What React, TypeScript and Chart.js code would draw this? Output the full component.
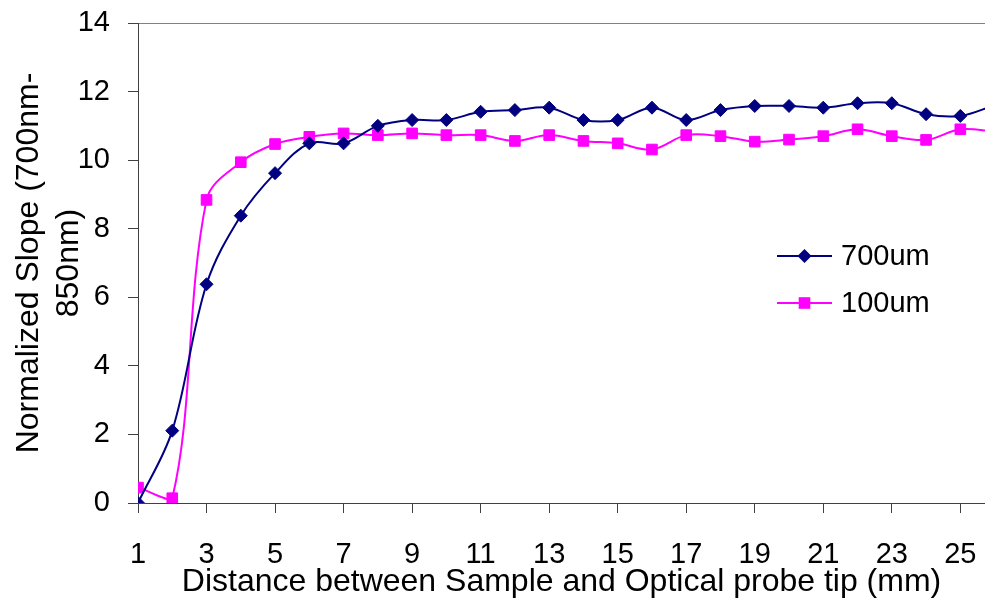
import { useEffect, useRef } from 'react';
import { Chart, registerables } from 'chart.js';

Chart.register(...registerables);

const distances = [1, 2, 3, 4, 5, 6, 7, 8, 9, 10, 11, 12, 13, 14, 15, 16, 17, 18, 19, 20, 21, 22, 23, 24, 25, 26];
const series700um = [0, 2.11, 6.38, 8.38, 9.62, 10.49, 10.49, 11.0, 11.17, 11.17, 11.41, 11.46, 11.53, 11.17, 11.17, 11.53, 11.17, 11.46, 11.58, 11.58, 11.53, 11.66, 11.66, 11.34, 11.29, 11.6];
const series100um = [0.45, 0.14, 8.84, 9.94, 10.47, 10.68, 10.78, 10.73, 10.78, 10.73, 10.73, 10.56, 10.73, 10.56, 10.49, 10.31, 10.73, 10.7, 10.54, 10.6, 10.7, 10.9, 10.7, 10.59, 10.9, 10.84];
const xTickValues = [1, 3, 5, 7, 9, 11, 13, 15, 17, 19, 21, 23, 25];
const seriesLabels = ['700um', '100um'];
const xTitle = 'Distance between Sample and Optical probe tip (mm)';
const yTitle = ['Normalized Slope (700nm-', '850nm)'];

const FONT = '"Liberation Sans", Arial, sans-serif';
const NAVY = '#000080';
const MAGENTA = '#FF00FF';
const AXIS = '#404040';

const insideLegend = {
  id: 'insideLegend',
  afterDraw(chart: any) {
    const { ctx, chartArea } = chart;
    const lx0 = chartArea.right - 208;
    const lx1 = lx0 + 55;
    const mx = (lx0 + lx1) / 2;
    const rows = [chartArea.top + 233, chartArea.top + 280];
    ctx.save();
    chart.data.datasets.forEach((ds: any, i: number) => {
      const y = rows[i];
      ctx.strokeStyle = ds.borderColor;
      ctx.lineWidth = ds.borderWidth;
      ctx.beginPath();
      ctx.moveTo(lx0, y);
      ctx.lineTo(lx1, y);
      ctx.stroke();
      ctx.fillStyle = ds.pointBackgroundColor;
      ctx.beginPath();
      if (ds.pointStyle === 'rectRot') {
        const r = ds.pointRadius + 0.5;
        ctx.moveTo(mx - r, y);
        ctx.lineTo(mx, y - r);
        ctx.lineTo(mx + r, y);
        ctx.lineTo(mx, y + r);
        ctx.closePath();
      } else {
        const s = ds.pointRadius * Math.SQRT1_2 + 0.5;
        ctx.rect(mx - s, y - s, 2 * s, 2 * s);
      }
      ctx.fill();
      ctx.fillStyle = '#000';
      ctx.font = `29px ${FONT}`;
      ctx.textAlign = 'left';
      ctx.textBaseline = 'middle';
      ctx.fillText(ds.label, lx1 + 9, y + 1);
    });
    ctx.restore();
  },
};

const zeroPadding = (scale: any) => {
  scale.paddingTop = 0;
  scale.paddingBottom = 0;
  scale.paddingLeft = 0;
  scale.paddingRight = 0;
};

export default function App() {
  const canvasRef = useRef<HTMLCanvasElement | null>(null);

  useEffect(() => {
    document.body.style.margin = '0';
    const canvas = canvasRef.current;
    if (!canvas) return;
    Chart.defaults.font.family = FONT;
    Chart.defaults.color = '#000';

    const chart = new Chart(canvas, {
      type: 'line',
      data: {
        datasets: [
          {
            label: seriesLabels[0],
            data: distances.map((x, i) => ({ x, y: series700um[i] })),
            borderColor: NAVY,
            backgroundColor: NAVY,
            pointBackgroundColor: NAVY,
            pointBorderColor: NAVY,
            borderWidth: 2,
            pointStyle: 'rectRot',
            pointRadius: 6.5,
            pointBorderWidth: 1,
            tension: 0.35,
          } as any,
          {
            label: seriesLabels[1],
            data: distances.map((x, i) => ({ x, y: series100um[i] })),
            borderColor: MAGENTA,
            backgroundColor: MAGENTA,
            pointBackgroundColor: MAGENTA,
            pointBorderColor: MAGENTA,
            borderWidth: 2,
            pointStyle: 'rect',
            pointRadius: 7.5,
            pointBorderWidth: 1,
            tension: 0.35,
          } as any,
        ],
      },
      options: {
        animation: false,
        responsive: false,
        maintainAspectRatio: false,
        layout: { autoPadding: false, padding: { top: 23, right: 0, bottom: 0, left: 0 } },
        plugins: {
          legend: { display: false },
          tooltip: { enabled: false },
        },
        scales: {
          x: {
            type: 'linear',
            min: 1,
            max: 25.72,
            afterBuildTicks: (scale: any) => {
              scale.ticks = xTickValues.map((v) => ({ value: v }));
            },
            afterFit: (scale: any) => {
              scale.height = 95;
              zeroPadding(scale);
            },
            grid: {
              color: 'rgba(0,0,0,0)',
              tickColor: AXIS,
              tickLength: 10,
              drawTicks: true,
            },
            border: { display: true, color: AXIS, width: 1 },
            ticks: {
              font: { size: 29, family: FONT },
              color: '#000',
              padding: 25,
              maxRotation: 0,
              autoSkip: false,
            },
            title: {
              display: true,
              text: xTitle,
              font: { size: 32, family: FONT, lineHeight: 1 },
              color: '#000',
              padding: { top: 0, bottom: 0 },
            },
          },
          y: {
            type: 'linear',
            min: 0,
            max: 14,
            afterFit: (scale: any) => {
              scale.width = 138;
              zeroPadding(scale);
            },
            grid: {
              color: (c: any) => (c.tick && c.tick.value === 14 ? '#808080' : 'rgba(0,0,0,0)'),
              tickColor: AXIS,
              tickLength: 10,
              drawTicks: true,
            },
            border: { display: true, color: AXIS, width: 1 },
            ticks: {
              stepSize: 2,
              font: { size: 29, family: FONT },
              color: '#000',
              padding: 18,
            },
            title: {
              display: true,
              text: yTitle,
              font: { size: 32, family: FONT, lineHeight: 1.25 },
              color: '#000',
              padding: { top: 9, bottom: 0 },
            },
          },
        },
      } as any,
      plugins: [insideLegend],
    });

    return () => {
      chart.destroy();
    };
  }, []);

  return (
    <div style={{ width: 985, height: 598, position: 'relative' }}>
      <canvas ref={canvasRef} width={985} height={598} style={{ display: 'block', width: 985, height: 598 }} />
    </div>
  );
}
